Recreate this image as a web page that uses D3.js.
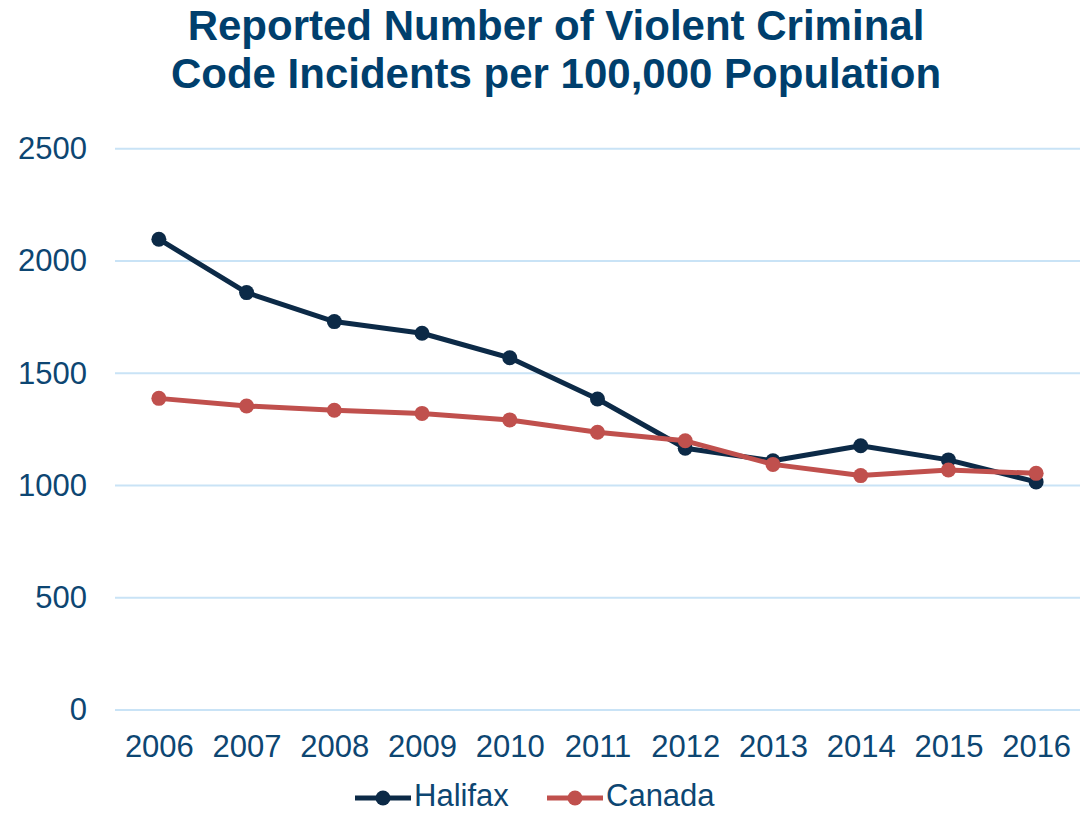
<!DOCTYPE html>
<html>
<head>
<meta charset="utf-8">
<script src="https://cdn.jsdelivr.net/npm/d3@7"></script>
<style>
  html, body { margin: 0; padding: 0; background: #fff; }
  svg { display: block; font-family: "Liberation Sans", Arial, sans-serif; }
</style>
</head>
<body>
<svg id="chart" width="1082" height="813"></svg>
<script>
const years = ["2006","2007","2008","2009","2010","2011","2012","2013","2014","2015","2016"];
const halifax = [2097, 1859, 1730, 1678, 1569, 1385, 1166, 1110, 1177, 1114, 1016];
const canada  = [1388, 1354, 1335, 1321, 1292, 1237, 1199, 1094, 1044, 1069, 1054];
const yTicks = [0, 500, 1000, 1500, 2000, 2500];
const titleLines = ["Reported Number of Violent Criminal", "Code Incidents per 100,000 Population"];
const seriesNames = ["Halifax", "Canada"];
const seriesColors = ["#0c2a47", "#c0504d"];

const svg = d3.select("#chart");
const textColor = "#0d4672";
const fontFam = "\"Liberation Sans\", Arial, sans-serif";

const x = d3.scalePoint().domain(years).range([115, 1080]).padding(0.5);
const y = d3.scaleLinear().domain([0, 2500]).range([710, 148.7]);

// title
svg.append("g").selectAll("text").data(titleLines).join("text")
  .attr("x", 556).attr("y", (d, i) => 40 + i * 48)
  .attr("text-anchor", "middle")
  .attr("font-size", 42).attr("font-weight", "bold")
  .attr("fill", "#003f6d")
  .text(d => d);

// gridlines
svg.append("g").selectAll("line").data(yTicks).join("line")
  .attr("x1", 115).attr("x2", 1080)
  .attr("y1", d => y(d)).attr("y2", d => y(d))
  .attr("stroke", "#c9e3f6").attr("stroke-width", 2);

// y axis
const yAxis = svg.append("g").attr("transform", "translate(87,0)")
  .call(d3.axisLeft(y).tickValues(yTicks).tickSize(0).tickPadding(0).tickFormat(d3.format("d")));
yAxis.select(".domain").remove();
yAxis.selectAll("text").attr("font-size", 31).attr("fill", textColor)
  .attr("font-family", fontFam);

// x axis
const xAxis = svg.append("g").attr("transform", "translate(0,710)")
  .call(d3.axisBottom(x).tickSize(0).tickPadding(25));
xAxis.select(".domain").remove();
xAxis.selectAll("text").attr("font-size", 31).attr("fill", textColor)
  .attr("font-family", fontFam);

const data = [halifax, canada];
const line = d3.line().x((d, i) => x(years[i])).y(d => y(d));

data.forEach((vals, k) => {
  const g = svg.append("g");
  g.append("path").datum(vals)
    .attr("d", line).attr("fill", "none")
    .attr("stroke", seriesColors[k]).attr("stroke-width", 5)
    .attr("stroke-linejoin", "round");
  g.selectAll("circle").data(vals).join("circle")
    .attr("cx", (d, i) => x(years[i])).attr("cy", d => y(d))
    .attr("r", 7.5).attr("fill", seriesColors[k]);
});

// legend
const legendX = [355, 547];
seriesNames.forEach((name, k) => {
  const g = svg.append("g").attr("transform", `translate(${legendX[k]},798)`);
  g.append("line").attr("x1", 0).attr("x2", 56).attr("y1", 0).attr("y2", 0)
    .attr("stroke", seriesColors[k]).attr("stroke-width", 5);
  g.append("circle").attr("cx", 28).attr("cy", 0).attr("r", 7.5).attr("fill", seriesColors[k]);
  g.append("text").attr("x", 59).attr("y", 8)
    .attr("font-size", 31).attr("fill", textColor).text(name);
});
</script>
</body>
</html>
